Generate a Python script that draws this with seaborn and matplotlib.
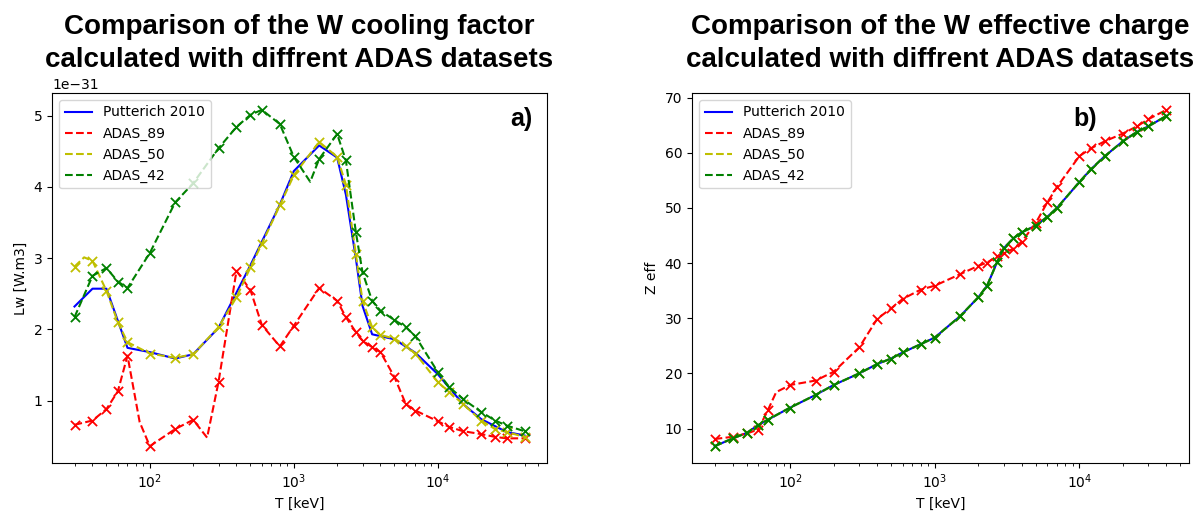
import numpy as np
import matplotlib
matplotlib.use("Agg")
import matplotlib.pyplot as plt
import seaborn as sns

# ---------------- data ----------------
T_GRID = [30, 40, 50, 60, 70, 100, 150, 200, 300, 400, 500, 600, 800, 1000,
          1500, 2000, 2300, 2700, 3000, 3500, 4000, 5000, 6000, 7000,
          10000, 12000, 15000, 20000, 25000, 30000, 40000]

# cooling factor Lw, in units of 1e-31 W.m3
T_PUT = [30, 40, 50, 70, 100, 150, 200, 300, 500, 800, 1000, 1500, 2000, 2300,
         2700, 3000, 3500, 5000, 7000, 10000, 15000, 20000, 30000, 40000]
LW_PUT = [2.32, 2.57, 2.57, 1.74, 1.68, 1.59, 1.65, 2.02, 2.90, 3.75, 4.22, 4.58,
          4.41, 3.89, 2.99, 2.33, 1.93, 1.86, 1.67, 1.37, 0.95, 0.74, 0.56, 0.51]

LW_89 = [0.66, 0.72, 0.88, 1.13, 1.63, 0.36, 0.60, 0.73, 1.26, 2.82, 2.55, 2.06,
         1.76, 2.05, 2.58, 2.40, 2.17, 1.96, 1.84, 1.75, 1.68, 1.33, 0.95, 0.86,
         0.71, 0.63, 0.57, 0.53, 0.49, 0.47, 0.47]
LW_89_EXTRA_T = [85, 250]
LW_89_EXTRA_V = [0.70, 0.48]

LW_50 = [2.88, 2.96, 2.54, 2.10, 1.82, 1.66, 1.60, 1.65, 2.03, 2.45, 2.87, 3.20,
         3.74, 4.16, 4.63, 4.42, 4.03, 3.05, 2.40, 2.03, 1.92, 1.87, 1.77, 1.66,
         1.26, 1.12, 0.95, 0.72, 0.60, 0.56, 0.49]
LW_50_EXTRA_T = [35]
LW_50_EXTRA_V = [3.01]

LW_42 = [2.17, 2.75, 2.86, 2.67, 2.58, 3.07, 3.78, 4.05, 4.54, 4.84, 5.01, 5.08,
         4.88, 4.42, 4.39, 4.74, 4.37, 3.36, 2.80, 2.40, 2.26, 2.13, 2.03, 1.90,
         1.40, 1.19, 1.02, 0.84, 0.72, 0.65, 0.57]
LW_42_EXTRA_T = [1300]
LW_42_EXTRA_V = [4.07]

LW_UNIT = 1e-31

# effective charge
ZEFF_89 = [8.1, 8.5, 9.1, 9.8, 13.3, 17.9, 18.7, 20.3, 24.7, 29.9, 31.8, 33.5,
           35.2, 35.9, 38.0, 39.5, 40.1, 41.2, 41.8, 42.6, 43.9, 47.3, 51.0, 53.8,
           59.4, 60.8, 62.1, 63.5, 64.8, 66.1, 67.8]
ZEFF_89_EXTRA_T = [80]
ZEFF_89_EXTRA_V = [16.6]

ZEFF_PUT = [6.8, 8.2, 9.2, 10.6, 11.6, 13.8, 16.1, 17.9, 20.0, 21.7, 22.7, 23.8,
            25.3, 26.5, 30.4, 33.8, 35.9, 40.2, 42.7, 44.5, 45.6, 46.8, 48.4, 50.0,
            54.7, 57.0, 59.4, 62.1, 63.8, 64.8, 66.7]
ZEFF_50 = list(ZEFF_PUT)
ZEFF_42 = list(ZEFF_PUT)

LABELS = ["Putterich 2010", "ADAS_89", "ADAS_50", "ADAS_42"]
COLORS = ["b", "r", "y", "g"]


def merged(t, v, te=(), ve=()):
    pts = sorted(zip(list(t) + list(te), list(v) + list(ve)))
    return [p[0] for p in pts], [p[1] for p in pts]


W, H = 1204, 517
fig = plt.figure(figsize=(W / 100, H / 100), dpi=100)
ax1 = fig.add_axes([52 / W, 54 / H, 495 / W, 370 / H])
ax2 = fig.add_axes([692 / W, 54 / H, 497 / W, 370 / H])
for ax in (ax1, ax2):
    ax.set_xscale("log")


def draw(ax, put_t, put_v, series, unit=1.0):
    sns.lineplot(x=put_t, y=np.array(put_v) * unit, ax=ax, color=COLORS[0],
                 label=LABELS[0], estimator=None, sort=True, linewidth=1.5)
    for (vals, te, ve), lab, col in zip(series, LABELS[1:], COLORS[1:]):
        lt, lv = merged(T_GRID, vals, te, ve)
        sns.lineplot(x=lt, y=np.array(lv) * unit, ax=ax, color=col, label=lab,
                     linestyle="--", estimator=None, sort=True, linewidth=1.5)
        sns.scatterplot(x=T_GRID, y=np.array(vals) * unit, ax=ax, color=col,
                        marker="x", s=44, linewidth=1.3, legend=False, zorder=2)


draw(ax1, T_PUT, LW_PUT,
     [(LW_89, LW_89_EXTRA_T, LW_89_EXTRA_V),
      (LW_50, LW_50_EXTRA_T, LW_50_EXTRA_V),
      (LW_42, LW_42_EXTRA_T, LW_42_EXTRA_V)], unit=LW_UNIT)
draw(ax2, T_GRID, ZEFF_PUT,
     [(ZEFF_89, ZEFF_89_EXTRA_T, ZEFF_89_EXTRA_V),
      (ZEFF_50, [], []),
      (ZEFF_42, [], [])])

title_kw = dict(fontsize=20, fontweight="bold", family="Liberation Sans",
                pad=19, y=1.0, linespacing=1.35)
ax1.set_title("Comparison of the W cooling factor\ncalculated with diffrent ADAS datasets", **title_kw)
ax2.set_title("Comparison of the W effective charge\ncalculated with diffrent ADAS datasets", **title_kw)

ax1.set_xlabel("T [keV]")
ax2.set_xlabel("T [keV]")
ax1.set_ylabel("Lw [W.m3]")
ax2.set_ylabel("Z eff")

for ax in (ax1, ax2):
    ax.legend(loc="upper left")

ax1.text(0.925, 0.962, "a)", transform=ax1.transAxes, fontsize=18,
         fontweight="bold", family="Liberation Sans", ha="left", va="top")
ax2.text(0.767, 0.962, "b)", transform=ax2.transAxes, fontsize=18,
         fontweight="bold", family="Liberation Sans", ha="left", va="top")

fig.savefig("out.png", dpi=100)
